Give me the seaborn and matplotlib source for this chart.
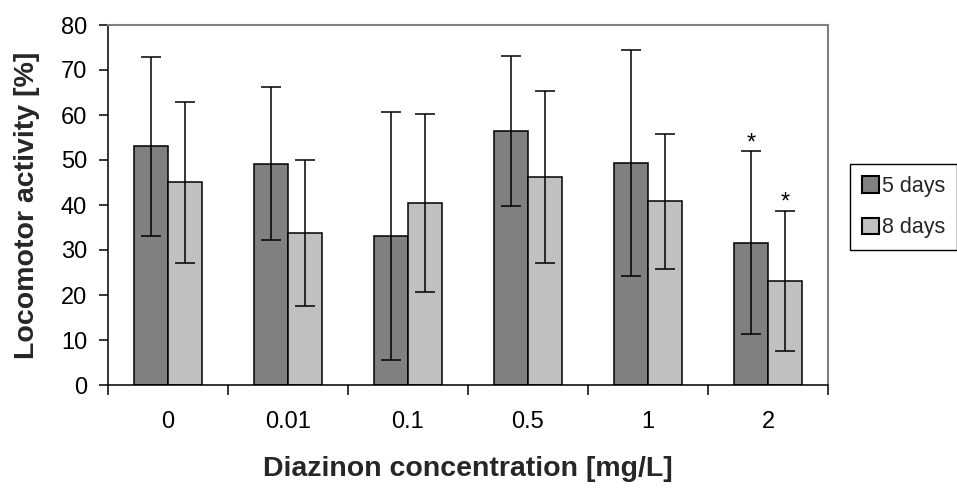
import matplotlib
matplotlib.use("Agg")
import matplotlib.pyplot as plt
from matplotlib.patches import Patch
from matplotlib.ticker import FixedLocator
import numpy as np
import pandas as pd
import seaborn as sns

# Locomotor activity (mean ± SD) after diazinon exposure
concentrations = ["0", "0.01", "0.1", "0.5", "1", "2"]
exposures = ["5 days", "8 days"]
mean_5d = [53.0, 49.2, 33.1, 56.5, 49.3, 31.6]
sd_5d = [19.8, 17.0, 27.5, 16.7, 25.1, 20.3]
mean_8d = [45.0, 33.8, 40.4, 46.2, 40.8, 23.1]
sd_8d = [17.9, 16.3, 19.8, 19.1, 15.0, 15.6]
signif_5d = ["", "", "", "", "", "*"]
signif_8d = ["", "", "", "", "", "*"]
y_ticks = [0, 10, 20, 30, 40, 50, 60, 70, 80]

colors = ["#808080", "#C0C0C0"]

df = pd.DataFrame({
    "Concentration": concentrations * 2,
    "Exposure": [exposures[0]] * len(concentrations) + [exposures[1]] * len(concentrations),
    "Activity": mean_5d + mean_8d,
})

sns.set_style("white")
plt.rcParams["font.family"] = ["Liberation Sans", "DejaVu Sans"]

fig = plt.figure(figsize=(9.57, 4.90), dpi=100)
ax = fig.add_axes([108 / 957, 105 / 490, 720 / 957, 360 / 490])

sns.barplot(data=df, x="Concentration", y="Activity", hue="Exposure",
            order=concentrations, hue_order=exposures, palette=colors,
            width=0.57, edgecolor="black", linewidth=1.1, errorbar=None,
            saturation=1, ax=ax, legend=False)

# error bars and significance markers on top of each bar
for container, sds, marks in zip(ax.containers, [sd_5d, sd_8d], [signif_5d, signif_8d]):
    xs = [b.get_x() + b.get_width() / 2 for b in container]
    ys = [b.get_height() for b in container]
    ax.errorbar(xs, ys, yerr=sds, fmt="none", ecolor="black",
                elinewidth=1.1, capsize=7.2, capthick=1.1, zorder=5)
    for x, y, s, m in zip(xs, ys, sds, marks):
        if m:
            ax.annotate(m, xy=(x, y + s), xytext=(0, 1.5), textcoords="offset points",
                        ha="center", va="baseline", fontsize=17, color="black")

ax.set_xlim(-0.5, len(concentrations) - 0.5)
ax.set_ylim(0, 80)
ax.set_yticks(y_ticks)
ax.set_yticklabels([str(v) for v in y_ticks])

ax.xaxis.set_minor_locator(FixedLocator(np.arange(-0.5, len(concentrations), 1.0)))
ax.tick_params(axis="x", which="major", length=0, pad=19, labelsize=17, colors="black")
ax.tick_params(axis="x", which="minor", length=7.2, width=1.1, color="black", direction="out", bottom=True)
ax.tick_params(axis="y", which="major", length=6.5, width=1.1, color="black", direction="out",
               left=True, pad=8.5, labelsize=17, labelcolor="black")

for side in ["left", "bottom"]:
    ax.spines[side].set_color("black")
    ax.spines[side].set_linewidth(1.1)
for side in ["top", "right"]:
    ax.spines[side].set_visible(True)
    ax.spines[side].set_color("#808080")
    ax.spines[side].set_linewidth(1.5)

ax.set_xlabel("Diazinon concentration [mg/L]", fontsize=20.5, fontweight="bold", labelpad=16)
ax.set_ylabel("Locomotor activity [%]", fontsize=20.5, fontweight="bold", labelpad=15)

handles = [Patch(facecolor=c, edgecolor="black", linewidth=1.5) for c in colors]
leg = fig.legend(handles, exposures, loc="upper left",
                 bbox_to_anchor=(850 / 957, 1 - 164 / 490), frameon=True,
                 fancybox=False, edgecolor="black", framealpha=1, fontsize=15.5,
                 handlelength=0.8, handleheight=0.8, handletextpad=0.15,
                 labelspacing=0.95, borderpad=0.55, borderaxespad=0)
leg.get_frame().set_linewidth(1.0)

fig.savefig("out.png", dpi=100, facecolor="white")
